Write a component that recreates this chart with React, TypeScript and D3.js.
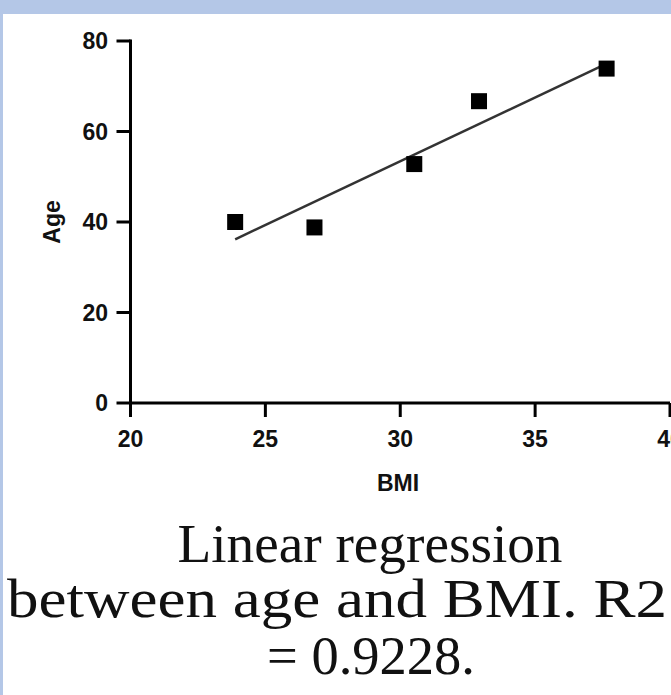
import React from "react";
import * as d3 from "d3";

const bmi = [23.88, 26.82, 30.52, 32.92, 37.65];
const age = [40.0, 38.8, 52.8, 66.7, 73.9];
const xTicks = [20, 25, 30, 35, 40];
const yTicks = [0, 20, 40, 60, 80];
const xLabel = "BMI";
const yLabel = "Age";
const captionLines = ["Linear regression", "between age and BMI. R2", "= 0.9228."];

const W = 671;
const H = 695;

export default function App() {
  const x = d3.scaleLinear().domain([20, 40]).range([130.5, 670]);
  const y = d3.scaleLinear().domain([0, 80]).range([403, 41]);

  const mx = d3.mean(bmi)!;
  const my = d3.mean(age)!;
  let sxy = 0;
  let sxx = 0;
  bmi.forEach((v, i) => {
    sxy += (v - mx) * (age[i] - my);
    sxx += (v - mx) * (v - mx);
  });
  const slope = sxy / sxx;
  const intercept = my - slope * mx;
  const [x0, x1] = d3.extent(bmi) as [number, number];
  const lineGen = d3
    .line<number>()
    .x((d) => x(d))
    .y((d) => y(intercept + slope * d));
  const regPath = lineGen([x0, x1]) || "";

  const tickFont = {
    fontFamily: "'Liberation Sans', Arial, sans-serif",
    fontWeight: 700,
    fontSize: 23,
    fill: "#111",
  } as const;
  const sq = 16;
  const tickLen = 14;
  const sw = 3;

  const captionX = [370, 337, 371];
  const captionY = [562, 617, 674];
  const captionLen = [385, 660, 208];

  return (
    <svg
      width={W}
      height={H}
      style={{ position: "absolute", left: 0, top: 0, background: "#fff" }}
    >
      <rect x={0} y={0} width={W} height={14} fill="#b4c7e7" />
      <rect x={0} y={0} width={3} height={H} fill="#b4c7e7" />

      {/* axes */}
      <line x1={x(20)} x2={x(40)} y1={y(0)} y2={y(0)} stroke="#000" strokeWidth={sw} />
      <line x1={x(20)} x2={x(20)} y1={y(80) - 1.5} y2={y(0)} stroke="#000" strokeWidth={sw} />
      {xTicks.map((t) => (
        <g key={"xt" + t}>
          <line x1={x(t)} x2={x(t)} y1={y(0)} y2={y(0) + tickLen} stroke="#000" strokeWidth={sw} />
          <text x={x(t)} y={447} textAnchor="middle" {...tickFont}>
            {t}
          </text>
        </g>
      ))}
      {yTicks.map((t) => (
        <g key={"yt" + t}>
          <line x1={x(20) - tickLen} x2={x(20)} y1={y(t)} y2={y(t)} stroke="#000" strokeWidth={sw} />
          <text x={108} y={y(t) + 8} textAnchor="end" {...tickFont}>
            {t}
          </text>
        </g>
      ))}
      <text x={398} y={491} textAnchor="middle" {...tickFont}>
        {xLabel}
      </text>
      <text
        transform={`translate(60,222) rotate(-90)`}
        textAnchor="middle"
        {...tickFont}
      >
        {yLabel}
      </text>

      {/* regression line */}
      <path d={regPath} stroke="#333" strokeWidth={2.5} fill="none" />

      {/* points */}
      {bmi.map((v, i) => (
        <rect
          key={"p" + i}
          x={x(v) - sq / 2}
          y={y(age[i]) - sq / 2}
          width={sq}
          height={sq}
          fill="#000"
        />
      ))}

      {/* caption */}
      {captionLines.map((l, i) => (
        <text
          key={"c" + i}
          x={captionX[i]}
          y={captionY[i]}
          textAnchor="middle"
          fontFamily="'Liberation Serif', 'Times New Roman', serif"
          fontSize={54}
          fill="#111"
          textLength={captionLen[i]}
          lengthAdjust="spacingAndGlyphs"
        >
          {l}
        </text>
      ))}
    </svg>
  );
}
